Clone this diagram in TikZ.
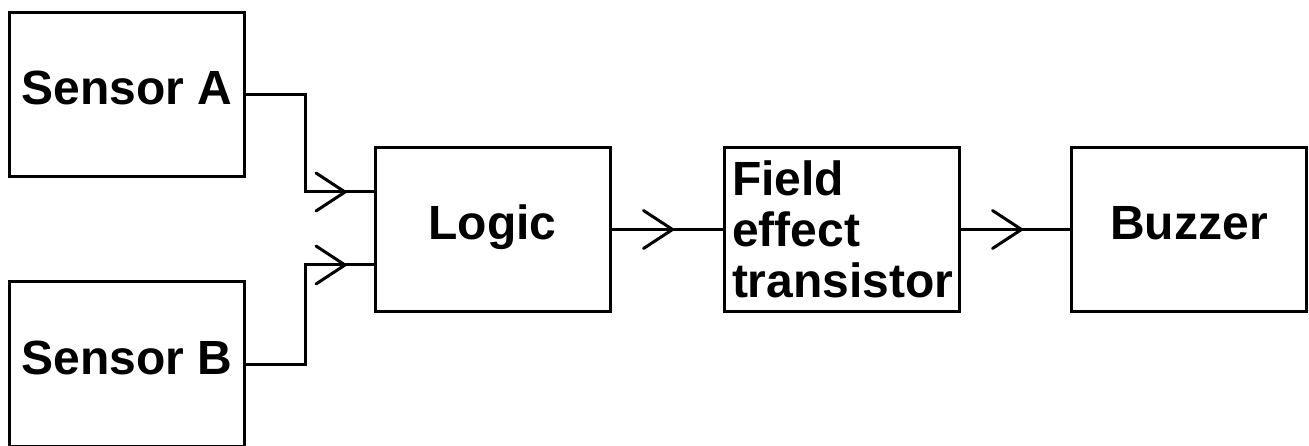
\documentclass[tikz,border=0pt]{standalone}
\usepackage{fontspec}
\setmainfont{Liberation Sans}
\usetikzlibrary{arrows.meta,decorations.markings,calc}
\begin{document}
\begin{tikzpicture}[x=1pt,y=-1pt,
  blk/.style={draw, line width=3pt, minimum width=235pt, minimum height=164pt,
    font=\fontsize{48}{51}\selectfont\bfseries, inner sep=0pt},
  onel/.style={text height=35pt, text depth=14pt},
  wire/.style={line width=3pt},
  midarrow/.style={postaction={decorate}, decoration={markings,
    mark=at position #1 with {\arrow{Straight Barb[length=29pt,width=38pt,round]}}}}
]
\useasboundingbox (0,0) rectangle (1309,446);
\node[blk,onel] (sa) at (127,94.5) {Sensor A};
\node[blk,onel] (sb) at (127,364) {Sensor B};
\node[blk,onel] (logic) at (492.5,229.5) {Logic};
\node[blk,align=left,text width=220pt] (fet) at (842,229.5) {Field\\effect\\transistor};
\node[blk,onel] (buz) at (1189,229.5) {Buzzer};
\coordinate (bendA) at (305,192);
\coordinate (bendB) at (305,265);
\draw[wire,midarrow=-27pt] (sa.east) -| (bendA) -- (logic.west |- bendA);
\draw[wire,midarrow=-27pt] (sb.east) -| (bendB) -- (logic.west |- bendB);
\draw[wire,midarrow=-49pt] (logic.east) -- (fet.west);
\draw[wire,midarrow=-47pt] (fet.east) -- (buz.west);
\end{tikzpicture}
\end{document}
